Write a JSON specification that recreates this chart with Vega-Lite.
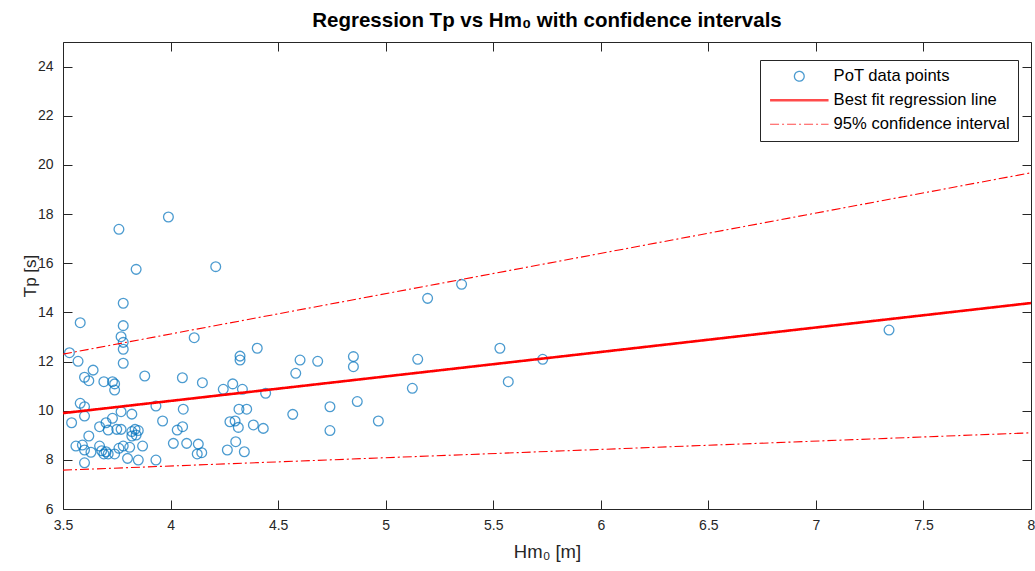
{
  "$schema": "https://vega.github.io/schema/vega-lite/v6.json",
  "width": 968,
  "height": 467,
  "autosize": {"type": "none"},
  "padding": {"left": 63, "top": 42, "right": 4, "bottom": 62},
  "background": "white",
  "title": {"text": "Regression Tp vs Hm₀ with confidence intervals", "font": "Liberation Sans", "fontSize": 20.5, "fontWeight": "bold", "color": "#000000", "anchor": "middle", "offset": 10},
  "config": {
    "view": {"stroke": "#262626", "strokeWidth": 1},
    "axis": {"labelFont": "Liberation Sans", "labelFontSize": 14, "labelColor": "#262626", "titleFont": "Liberation Sans", "titleFontSize": 18, "titleFontWeight": "normal", "titleColor": "#262626", "tickColor": "#262626", "tickWidth": 1, "grid": false, "domain": false}
  },
  "datasets": {
    "pts": [
      {"h":3.76,"t":17.38},{"h":3.99,"t":17.88},{"h":3.84,"t":15.75},{"h":4.21,"t":15.86},{"h":3.78,"t":14.37},{"h":3.58,"t":13.58},{"h":3.78,"t":13.46},{"h":3.77,"t":13.01},{"h":3.78,"t":12.78},{"h":3.78,"t":12.5},{"h":4.11,"t":12.97},{"h":3.53,"t":12.36},{"h":3.57,"t":12.01},{"h":3.64,"t":11.65},{"h":3.6,"t":11.36},{"h":3.62,"t":11.22},{"h":3.69,"t":11.18},{"h":3.73,"t":11.18},{"h":3.74,"t":11.09},{"h":3.74,"t":10.84},{"h":3.78,"t":11.93},{"h":3.88,"t":11.41},{"h":3.58,"t":10.3},{"h":3.6,"t":10.16},{"h":3.6,"t":9.78},{"h":3.54,"t":9.51},{"h":3.77,"t":9.96},{"h":3.82,"t":9.86},{"h":3.73,"t":9.69},{"h":3.7,"t":9.51},{"h":3.67,"t":9.35},{"h":3.71,"t":9.21},{"h":3.75,"t":9.24},{"h":3.77,"t":9.24},{"h":3.82,"t":9.15},{"h":3.835,"t":9.24},{"h":3.85,"t":9.19},{"h":3.84,"t":9.01},{"h":3.82,"t":8.97},{"h":3.62,"t":8.97},{"h":3.56,"t":8.56},{"h":3.59,"t":8.6},{"h":3.6,"t":8.4},{"h":3.63,"t":8.31},{"h":3.67,"t":8.56},{"h":3.68,"t":8.37},{"h":3.69,"t":8.24},{"h":3.71,"t":8.24},{"h":3.74,"t":8.24},{"h":3.76,"t":8.47},{"h":3.78,"t":8.56},{"h":3.81,"t":8.51},{"h":3.87,"t":8.56},{"h":3.6,"t":7.88},{"h":3.8,"t":8.06},{"h":3.85,"t":7.99},{"h":3.7,"t":8.33},
      {"h":4.055,"t":11.34},{"h":4.148,"t":11.14},{"h":4.245,"t":10.87},{"h":4.289,"t":11.09},{"h":3.932,"t":10.19},{"h":4.059,"t":10.06},{"h":3.963,"t":9.58},{"h":4.031,"t":9.21},{"h":4.056,"t":9.35},{"h":4.013,"t":8.67},{"h":4.075,"t":8.67},{"h":4.129,"t":8.64},{"h":4.124,"t":8.24},{"h":4.145,"t":8.29},{"h":3.932,"t":7.99},{"h":4.264,"t":8.4},
      {"h":4.403,"t":12.54},{"h":4.323,"t":12.22},{"h":4.323,"t":12.06},{"h":4.602,"t":12.06},{"h":4.684,"t":12.01},{"h":4.582,"t":11.52},{"h":4.334,"t":10.87},{"h":4.442,"t":10.71},{"h":4.318,"t":10.06},{"h":4.354,"t":10.06},{"h":4.741,"t":10.16},{"h":4.568,"t":9.85},{"h":4.276,"t":9.55},{"h":4.3,"t":9.58},{"h":4.315,"t":9.32},{"h":4.385,"t":9.42},{"h":4.431,"t":9.28},{"h":4.741,"t":9.19},{"h":4.303,"t":8.74},{"h":4.343,"t":8.33},
      {"h":4.85,"t":12.2},{"h":4.85,"t":11.79},{"h":4.868,"t":10.37},{"h":4.966,"t":9.58},{"h":5.195,"t":14.57},{"h":5.353,"t":15.14},{"h":5.149,"t":12.09},{"h":5.531,"t":12.54},{"h":5.73,"t":12.09},{"h":5.124,"t":10.91},{"h":5.57,"t":11.18},{"h":7.34,"t":13.28}
    ],
    "lines": [
      {"h":3.5,"t":9.9,"s":"Best fit regression line","g":"fit"},
      {"h":8,"t":14.38,"s":"Best fit regression line","g":"fit"},
      {"h":3.5,"t":12.3,"s":"95% confidence interval","g":"upper"},
      {"h":8,"t":19.68,"s":"95% confidence interval","g":"upper"},
      {"h":3.5,"t":7.58,"s":"95% confidence interval","g":"lower"},
      {"h":8,"t":9.1,"s":"95% confidence interval","g":"lower"}
    ]
  },
  "layer": [
    {
      "data": {"name": "pts"},
      "transform": [{"calculate": "'PoT data points'", "as": "s"}],
      "mark": {"type": "point", "filled": false, "size": 95, "strokeWidth": 1.3},
      "encoding": {
        "x": {"field": "h", "type": "quantitative", "scale": {"domain": [3.5, 8], "nice": false, "zero": false},
          "axis": {"orient": "bottom", "offset": -9, "tickSize": 9, "labelPadding": 9, "values": [3.5,4,4.5,5,5.5,6,6.5,7,7.5,8], "format": "~g", "labelFlush": false, "title": "Hm₀ [m]", "titleFontSize": 18.5, "titlePadding": 10}},
        "y": {"field": "t", "type": "quantitative", "scale": {"domain": [6, 25], "nice": false, "zero": false},
          "axis": {"orient": "left", "offset": -9, "tickSize": 9, "labelPadding": 10, "values": [6,8,10,12,14,16,18,20,22,24], "format": "d", "title": "Tp [s]", "titleFontSize": 17, "titlePadding": -2}},
        "color": {"field": "s", "type": "nominal", "title": null,
          "scale": {"domain": ["PoT data points", "Best fit regression line", "95% confidence interval"], "range": ["#0072BD", "#FF0000", "#FF0000"]},
          "legend": {"orient": "none", "legendX": 697, "legendY": 18, "padding": 8, "fillColor": "white", "strokeColor": "#262626", "symbolOffset": 23, "labelOffset": 26, "symbolSize": 95, "symbolFillColor": "transparent", "labelFont": "Liberation Sans", "labelFontSize": 16.6, "labelColor": "#000000", "rowPadding": 7, "labelLimit": 300}},
        "shape": {"field": "s", "type": "nominal", "title": null,
          "scale": {"domain": ["PoT data points", "Best fit regression line", "95% confidence interval"], "range": ["circle", "M-6,0H6", "M-6,0H6"]},
          "legend": {"orient": "none", "legendX": 697, "legendY": 18, "padding": 8, "fillColor": "white", "strokeColor": "#262626", "symbolOffset": 23, "labelOffset": 26, "symbolSize": 95, "symbolFillColor": "transparent", "labelFont": "Liberation Sans", "labelFontSize": 16.6, "labelColor": "#000000", "rowPadding": 7, "labelLimit": 300}},
        "strokeWidth": {"field": "s", "type": "nominal", "title": null,
          "scale": {"type": "ordinal", "domain": ["PoT data points", "Best fit regression line", "95% confidence interval"], "range": [1.3, 2.6, 1.1]},
          "legend": {"orient": "none", "legendX": 697, "legendY": 18, "padding": 8, "fillColor": "white", "strokeColor": "#262626", "symbolOffset": 23, "labelOffset": 26, "symbolSize": 95, "symbolFillColor": "transparent", "labelFont": "Liberation Sans", "labelFontSize": 16.6, "labelColor": "#000000", "rowPadding": 7, "labelLimit": 300}}
      }
    },
    {
      "data": {"name": "lines"},
      "mark": {"type": "line"},
      "encoding": {
        "x": {"field": "h", "type": "quantitative", "scale": {"domain": [3.5, 8], "nice": false, "zero": false},
          "axis": {"orient": "top", "offset": -9, "tickSize": 9, "labels": false, "values": [3.5,4,4.5,5,5.5,6,6.5,7,7.5,8], "title": null}},
        "y": {"field": "t", "type": "quantitative", "scale": {"domain": [6, 25], "nice": false, "zero": false},
          "axis": {"orient": "right", "offset": -9, "tickSize": 9, "labels": false, "values": [6,8,10,12,14,16,18,20,22,24], "title": null}},
        "detail": {"field": "g"},
        "color": {"field": "s", "type": "nominal", "title": null,
          "scale": {"domain": ["PoT data points", "Best fit regression line", "95% confidence interval"], "range": ["#0072BD", "#FF0000", "#FF0000"]},
          "legend": {"orient": "none", "legendX": 697, "legendY": 18, "padding": 8, "fillColor": "white", "strokeColor": "#262626", "symbolOffset": 23, "labelOffset": 26, "symbolSize": 95, "symbolFillColor": "transparent", "labelFont": "Liberation Sans", "labelFontSize": 16.6, "labelColor": "#000000", "rowPadding": 7, "labelLimit": 300}},
        "strokeDash": {"field": "s", "type": "nominal", "title": null,
          "scale": {"domain": ["PoT data points", "Best fit regression line", "95% confidence interval"], "range": [[1, 0], [1, 0], [9, 3, 2, 3]]},
          "legend": {"orient": "none", "legendX": 697, "legendY": 18, "padding": 8, "fillColor": "white", "strokeColor": "#262626", "symbolOffset": 23, "labelOffset": 26, "symbolSize": 95, "symbolFillColor": "transparent", "labelFont": "Liberation Sans", "labelFontSize": 16.6, "labelColor": "#000000", "rowPadding": 7, "labelLimit": 300}},
        "strokeWidth": {"field": "s", "type": "nominal", "title": null,
          "scale": {"type": "ordinal", "domain": ["PoT data points", "Best fit regression line", "95% confidence interval"], "range": [1.3, 2.6, 1.1]},
          "legend": {"orient": "none", "legendX": 697, "legendY": 18, "padding": 8, "fillColor": "white", "strokeColor": "#262626", "symbolOffset": 23, "labelOffset": 26, "symbolSize": 95, "symbolFillColor": "transparent", "labelFont": "Liberation Sans", "labelFontSize": 16.6, "labelColor": "#000000", "rowPadding": 7, "labelLimit": 300}}
      }
    }
  ],
  "resolve": {"axis": {"x": "independent", "y": "independent"}}
}
